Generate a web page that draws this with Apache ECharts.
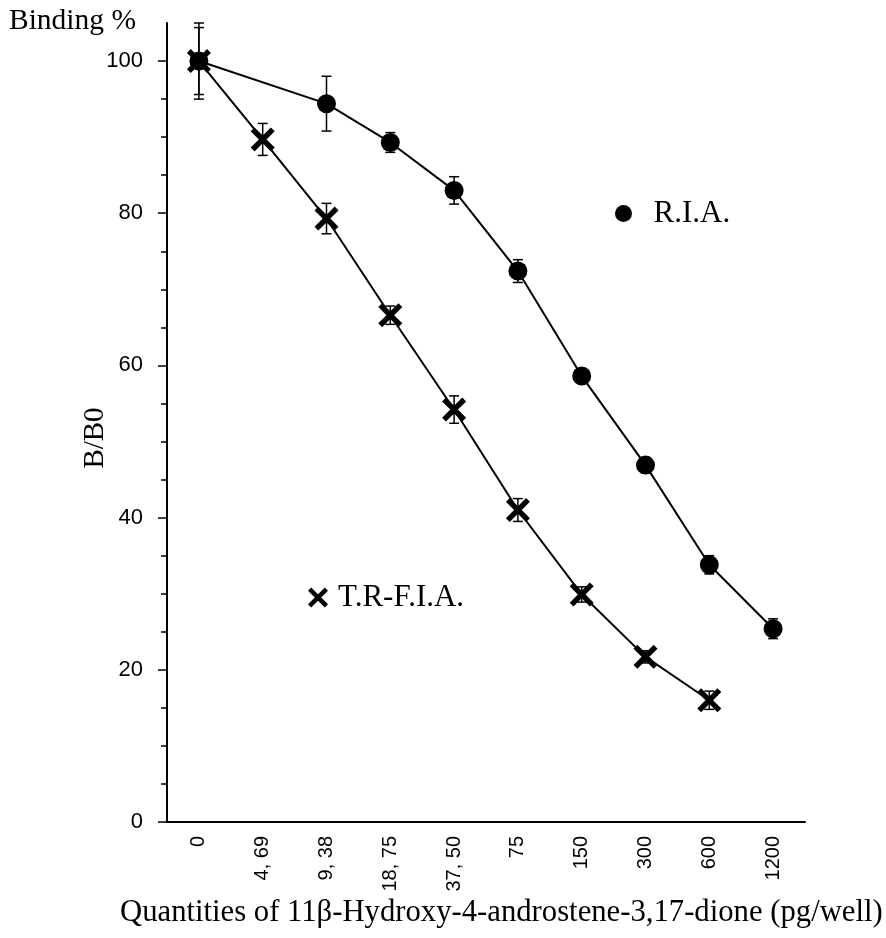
<!DOCTYPE html>
<html><head><meta charset="utf-8">
<script src="https://cdn.jsdelivr.net/npm/echarts@6/dist/echarts.min.js"></script>
<style>html,body{margin:0;padding:0;background:#fff}#c{width:886px;height:938px}</style>
</head><body><div id="c"></div>
<script>
const categories = ['0', '4, 69', '9, 38', '18, 75', '37, 50', '75', '150', '300', '600', '1200'];
const riaValues = [100, null, 94.4, 89.3, 83.0, 72.4, 58.6, 46.9, 33.8, 25.4];
const riaErrors = [4.4, null, 3.6, 1.3, 1.8, 1.5, 0.7, 1.0, 1.2, 1.3];
const trfiaValues = [100, 89.7, 79.3, 66.6, 54.2, 41.0, 29.9, 21.7, 16.0, null];
const trfiaErrors = [5.0, 2.1, 2.0, 1.2, 1.8, 1.5, 1.0, 0.8, 1.2, null];
const yLabelTicks = [0, 20, 40, 60, 80, 100];
const yMinorTicks = [5, 10, 15, 25, 30, 35, 45, 50, 55, 65, 70, 75, 85, 90, 95];

const SERIF = "'Liberation Serif', 'Times New Roman', serif";
const SANS = "'Liberation Sans Narrow', 'Arial Narrow', 'Liberation Sans', sans-serif";
const XSYM = 'path://M0,3.2 L3.2,0 L10,6.8 L16.8,0 L20,3.2 L13.2,10 L20,16.8 L16.8,20 L10,13.2 L3.2,20 L0,16.8 L6.8,10 Z';

function errData(vals, errs) {
  const out = [];
  vals.forEach((v, i) => { if (v != null && errs[i] != null) out.push([i, v - errs[i], v + errs[i]]); });
  return out;
}
function renderErr(params, api) {
  const x = api.value(0);
  const lo = api.coord([x, api.value(1)]);
  const hi = api.coord([x, api.value(2)]);
  const w = 5;
  const st = { stroke: '#000', lineWidth: 1.5 };
  return { type: 'group', children: [
    { type: 'line', shape: { x1: lo[0], y1: lo[1], x2: hi[0], y2: hi[1] }, style: st },
    { type: 'line', shape: { x1: lo[0] - w, y1: lo[1], x2: lo[0] + w, y2: lo[1] }, style: st },
    { type: 'line', shape: { x1: hi[0] - w, y1: hi[1], x2: hi[0] + w, y2: hi[1] }, style: st }
  ]};
}

const chart = echarts.init(document.getElementById('c'), null, { renderer: 'canvas' });
chart.setOption({
  animation: false,
  backgroundColor: '#fff',
  title: [
    { text: 'Binding %', left: 9, top: 6, padding: 0,
      textStyle: { fontFamily: SERIF, fontSize: 29.5, fontWeight: 'normal', color: '#000' } },
    { text: 'Quantities of 11β-Hydroxy-4-androstene-3,17-dione (pg/well)', left: 120, top: 897, padding: 0,
      textStyle: { fontFamily: SERIF, fontSize: 30.7, fontWeight: 'normal', color: '#000' } }
  ],
  graphic: [
    { type: 'text', x: 95, y: 438, rotation: Math.PI / 2,
      style: { text: 'B/B0', fill: '#000', font: "29px 'Liberation Serif', 'Times New Roman', serif",
               textAlign: 'center', textVerticalAlign: 'middle' } }
  ],
  legend: [
    { data: [{ name: 'R.I.A.', icon: 'circle' }], left: 610, top: 193, itemWidth: 50, itemHeight: 17,
      selectedMode: false, textStyle: { fontFamily: SERIF, fontSize: 31, color: '#000' } },
    { data: [{ name: 'T.R-F.I.A.', icon: XSYM }], left: 303, top: 577, itemWidth: 30, itemHeight: 20,
      selectedMode: false, textStyle: { fontFamily: SERIF, fontSize: 31, color: '#000' } }
  ],
  grid: { left: 167, right: 81, top: 23, bottom: 116, containLabel: false },
  xAxis: {
    type: 'category', data: categories, boundaryGap: true,
    axisLine: { lineStyle: { color: '#000', width: 2 } },
    axisTick: { alignWithLabel: true, length: 6, lineStyle: { color: '#000', width: 1.5 } },
    axisLabel: { rotate: 90, margin: 14, color: '#000', fontFamily: SANS, fontSize: 20, interval: 0 },
    splitLine: { show: false }
  },
  yAxis: [
    { type: 'value', min: 0, max: 105, position: 'left',
      axisLine: { show: true, lineStyle: { color: '#000', width: 2 } },
      axisTick: { show: true, customValues: yLabelTicks, length: 9, lineStyle: { color: '#000', width: 1.5 } },
      axisLabel: { customValues: yLabelTicks, margin: 24, color: '#000', fontFamily: SANS, fontSize: 22 },
      splitLine: { show: false } },
    { type: 'value', min: 0, max: 105, position: 'left',
      axisLine: { show: false },
      axisTick: { show: true, customValues: yMinorTicks, length: 6, lineStyle: { color: '#000', width: 1.5 } },
      axisLabel: { show: false },
      splitLine: { show: false } }
  ],
  series: [
    { type: 'custom', name: 'riaErr', renderItem: renderErr, data: errData(riaValues, riaErrors),
      encode: { x: 0, y: [1, 2] }, z: 1, silent: true },
    { type: 'custom', name: 'trfiaErr', renderItem: renderErr, data: errData(trfiaValues, trfiaErrors),
      encode: { x: 0, y: [1, 2] }, z: 1, silent: true },
    { type: 'line', name: 'R.I.A.', data: riaValues, connectNulls: true,
      symbol: 'circle', symbolSize: 19, showAllSymbol: true,
      lineStyle: { color: '#000', width: 2 }, itemStyle: { color: '#000' }, z: 3 },
    { type: 'line', name: 'T.R-F.I.A.', data: trfiaValues, connectNulls: true,
      symbol: XSYM, symbolSize: 24, showAllSymbol: true,
      lineStyle: { color: '#000', width: 2 }, itemStyle: { color: '#000' }, z: 4 }
  ]
});
</script>
</body></html>
